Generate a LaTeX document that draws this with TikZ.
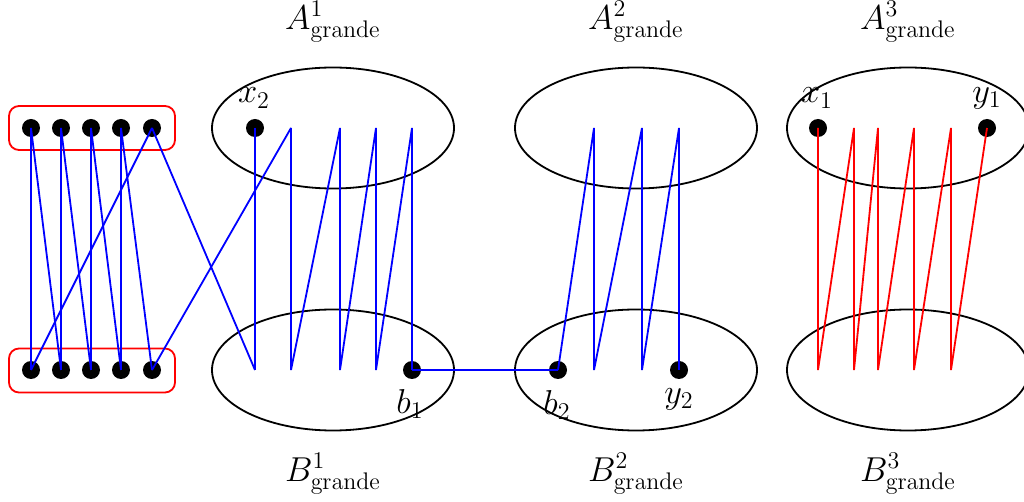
\documentclass[tikz,border=0pt]{standalone}
\usetikzlibrary{shapes.geometric}
\begin{document}
\begin{tikzpicture}[x=0.5pt,y=-0.5pt,
 dot/.style={circle, fill=black, inner sep=0pt, minimum size=9pt},
 blob/.style={ellipse, draw=black, line width=0.9pt, minimum width=121pt, minimum height=60.5pt, inner sep=0pt},
 grp/.style={draw=red, line width=0.9pt, rounded corners=5pt, minimum width=83pt, minimum height=22pt, inner sep=0pt},
 bl/.style={blue, line width=0.9pt},
 rl/.style={red, line width=0.9pt},
 lab/.style={font=\fontsize{17}{20}\selectfont, inner sep=0pt}]
\useasboundingbox (0,0) rectangle (1024,502);
\begin{scope}
\clip (0,0) rectangle (1024,502);
% groups
\node[grp] (gtop) at (92,128) {};
\node[grp] (gbot) at (92,370.5) {};
% ellipses
\node[blob] (A1) at (333,128) {};
\node[blob] (B1) at (333,370) {};
\node[blob] (A2) at (636,128) {};
\node[blob] (B2) at (636,370) {};
\node[blob] (A3) at (908,128) {};
\node[blob] (B3) at (908,370) {};
% left dots
\foreach \i/\x in {1/31,2/61,3/91,4/121,5/152}{
  \node[dot] (t\i) at (\x,128) {};
  \node[dot] (u\i) at (\x,370) {};
}
% A1/B1 points
\node[dot] (x2) at (255,128) {};
\coordinate (a2) at (291,128);
\coordinate (a3) at (340,128);
\coordinate (a4) at (376,128);
\coordinate (a5) at (412,128);
\coordinate (c1) at (255,370);
\coordinate (c2) at (291,370);
\coordinate (c3) at (340,370);
\coordinate (c4) at (376,370);
\node[dot] (b1) at (412,370) {};
% A2/B2 points
\coordinate (d1) at (594,128);
\coordinate (d2) at (642,128);
\coordinate (d3) at (679,128);
\node[dot] (b2) at (558,370) {};
\coordinate (e1) at (594,370);
\coordinate (e2) at (642,370);
\node[dot] (y2) at (679,370) {};
% A3/B3 points
\node[dot] (x1) at (818,128) {};
\coordinate (f2) at (854,128);
\coordinate (f3) at (878,128);
\coordinate (f4) at (914,128);
\coordinate (f5) at (951,128);
\node[dot] (y1) at (987,128) {};
\coordinate (g1) at (818,370);
\coordinate (g2) at (854,370);
\coordinate (g3) at (878,370);
\coordinate (g4) at (914,370);
\coordinate (g5) at (951,370);
% left cluster lines
\draw[bl] (t1.center) -- (u1.center) (t1.center) -- (u2.center);
\draw[bl] (t2.center) -- (u2.center) (t2.center) -- (u3.center);
\draw[bl] (t3.center) -- (u3.center) (t3.center) -- (u4.center);
\draw[bl] (t4.center) -- (u4.center) (t4.center) -- (u5.center);
\draw[bl] (t5.center) -- (u1.center);
\draw[bl] (t5.center) -- (c1);
\draw[bl] (u5.center) -- (a2);
% A1/B1 lines
\draw[bl] (x2.center) -- (c1);
\draw[bl] (a2) -- (c2) -- (a3) -- (c3) -- (a4) -- (c4) -- (a5) -- (b1.center);
\draw[bl] (b1.center) -- (b2.center);
% A2/B2 lines
\draw[bl] (b2.center) -- (d1) -- (e1) -- (d2) -- (e2) -- (d3) -- (y2.center);
% A3/B3 lines
\draw[rl] (x1.center) -- (g1) -- (f2) -- (g2) -- (f3) -- (g3) -- (f4) -- (g4) -- (f5) -- (g5) -- (y1.center);
\end{scope}
% labels
\node[lab] (lA1) at (333,22) {$A^1_{\mathrm{grande}}$};
\node[lab] (lA2) at (636,22) {$A^2_{\mathrm{grande}}$};
\node[lab] (lA3) at (908,22) {$A^3_{\mathrm{grande}}$};
\node[lab] (lB1) at (333,474) {$B^1_{\mathrm{grande}}$};
\node[lab] (lB2) at (636,474) {$B^2_{\mathrm{grande}}$};
\node[lab] (lB3) at (908,474) {$B^3_{\mathrm{grande}}$};
\node[lab] (lx2) at (254,98) {$x_2$};
\node[lab] (lb1) at (410,404) {$b_1$};
\node[lab] (lb2) at (557,405) {$b_2$};
\node[lab] (ly2) at (679,399) {$y_2$};
\node[lab] (lx1) at (817,98) {$x_1$};
\node[lab] (ly1) at (987,98) {$y_1$};
\end{tikzpicture}
\end{document}
